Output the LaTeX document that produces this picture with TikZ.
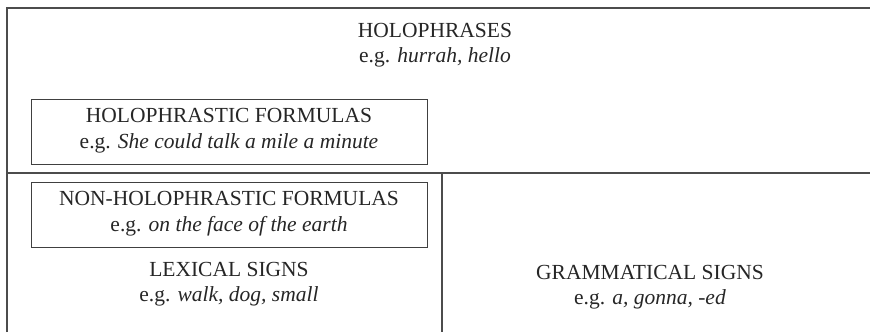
\documentclass[tikz,border=0pt]{standalone}
\usepackage{fontspec}
\setmainfont{Liberation Serif}
\begin{document}
\begin{tikzpicture}[x=1pt,y=-1pt,
  frame/.style={draw=black!70,line width=1.3pt},
  fbox/.style={draw=black!75,line width=0.9pt,minimum width=396pt,minimum height=65pt,inner sep=0pt},
  lab/.style={align=center,font=\fontsize{21.5}{25.5}\selectfont,inner sep=0pt,text=black!85}]
\useasboundingbox (0,0) rectangle (870,332);
\coordinate (tl) at (7,8);
\coordinate (tr) at (870,8);
\coordinate (bl) at (7,332);
\coordinate (ml) at (7,173);
\coordinate (mr) at (870,173);
\coordinate (vt) at (442,173);
\coordinate (vb) at (442,332);
\draw[frame] (bl) -- (tl) -- (tr);
\draw[frame] (ml) -- (mr);
\draw[frame] (vt) -- (vb);
\node[fbox] (hf) at (229,131.5) {};
\node[fbox] (nhf) at (229,214.7) {};
\node[lab] (holo) at (435,45) {HOLOPHRASES\\e.g. \textit{hurrah, hello}};
\node[lab] (hft) at (229,130.5) {HOLOPHRASTIC FORMULAS\\e.g. \textit{She could talk a mile a minute}};
\node[lab] (nhft) at (229,213.5) {NON-HOLOPHRASTIC FORMULAS\\e.g. \textit{on the face of the earth}};
\node[lab] (lex) at (229,284) {LEXICAL SIGNS\\e.g. \textit{walk, dog, small}};
\node[lab] (gram) at (650,287) {GRAMMATICAL SIGNS\\e.g. \textit{a, gonna, -ed}};
\end{tikzpicture}
\end{document}
